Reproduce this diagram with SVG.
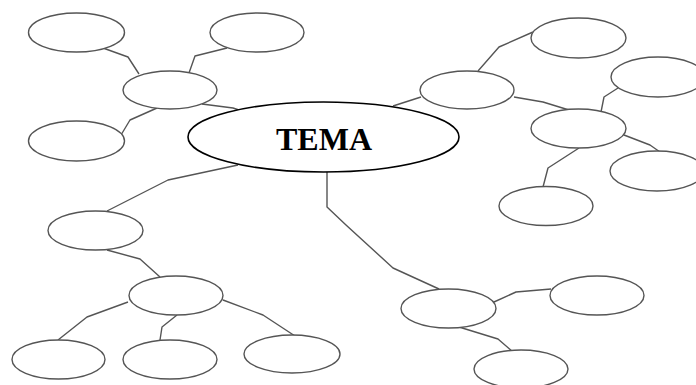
<svg xmlns="http://www.w3.org/2000/svg" width="696" height="385" viewBox="0 0 696 385">
<style>
.n{fill:#fff;stroke:#555;stroke-width:1.4}
.c{fill:none;stroke:#555;stroke-width:1.4;stroke-linejoin:round}
.t{fill:#fff;stroke:#000;stroke-width:1.6}
.lbl{font-family:"Liberation Serif","Times New Roman",serif;font-weight:bold;font-size:32px;fill:#000}
</style>
<rect width="696" height="385" fill="#fff"/>
<g id="connectors">
<polyline class="c" points="103,48 128,57 139,74"/>
<polyline class="c" points="227,48 195,56 189,73"/>
<polyline class="c" points="157,108 130,120 121,135"/>
<polyline class="c" points="202,104 233,108 242,111"/>
<polyline class="c" points="238,165 168,180 107,211"/>
<polyline class="c" points="327,172 327,207 346,225 393,268 439,289"/>
<polyline class="c" points="393,106 421,97"/>
<polyline class="c" points="478,71 499,47 533,32"/>
<polyline class="c" points="514,97 543,102 569,110"/>
<polyline class="c" points="601,112 604,97 618,88"/>
<polyline class="c" points="624,135 650,145 660,152"/>
<polyline class="c" points="579,148 548,168 543,187"/>
<polyline class="c" points="107,250 140,259 160,277"/>
<polyline class="c" points="128,302 87,317 58,340"/>
<polyline class="c" points="177,315 162,327 160,340"/>
<polyline class="c" points="223,300 263,315 295,336"/>
<polyline class="c" points="494,302 516,292 551,289"/>
<polyline class="c" points="459,327 498,339 513,352"/>
</g>
<g id="n1"><ellipse class="n" cx="76.5" cy="32.5" rx="48" ry="19.5"/></g>
<g id="n2"><ellipse class="n" cx="257" cy="32.5" rx="47" ry="19.5"/></g>
<g id="n3"><ellipse class="n" cx="170" cy="90" rx="47" ry="19"/></g>
<g id="n4"><ellipse class="n" cx="76.5" cy="141" rx="48" ry="20"/></g>
<g id="tema"><ellipse class="t" cx="323.5" cy="137" rx="135.5" ry="35"/><text class="lbl" x="324" y="150" text-anchor="middle">TEMA</text></g>
<g id="n5"><ellipse class="n" cx="467" cy="90" rx="47" ry="19"/></g>
<g id="n6"><ellipse class="n" cx="578.5" cy="38" rx="47.5" ry="20"/></g>
<g id="n7"><ellipse class="n" cx="658" cy="77" rx="47" ry="20"/></g>
<g id="n8"><ellipse class="n" cx="578.5" cy="128.5" rx="47.5" ry="19.5"/></g>
<g id="n9"><ellipse class="n" cx="657" cy="171" rx="47" ry="20"/></g>
<g id="n10"><ellipse class="n" cx="546" cy="206" rx="47" ry="19.5"/></g>
<g id="n11"><ellipse class="n" cx="95.5" cy="230.5" rx="47.5" ry="19.5"/></g>
<g id="n12"><ellipse class="n" cx="176" cy="295.5" rx="47" ry="19.5"/></g>
<g id="n13"><ellipse class="n" cx="58.5" cy="359.5" rx="46.5" ry="19.5"/></g>
<g id="n14"><ellipse class="n" cx="170" cy="359.5" rx="47" ry="19.5"/></g>
<g id="n15"><ellipse class="n" cx="292" cy="354" rx="48" ry="19"/></g>
<g id="n16"><ellipse class="n" cx="448.5" cy="308.5" rx="47.5" ry="19.5"/></g>
<g id="n17"><ellipse class="n" cx="597" cy="295.5" rx="47" ry="19.5"/></g>
<g id="n18"><ellipse class="n" cx="521" cy="369" rx="47" ry="19"/></g>
</svg>
